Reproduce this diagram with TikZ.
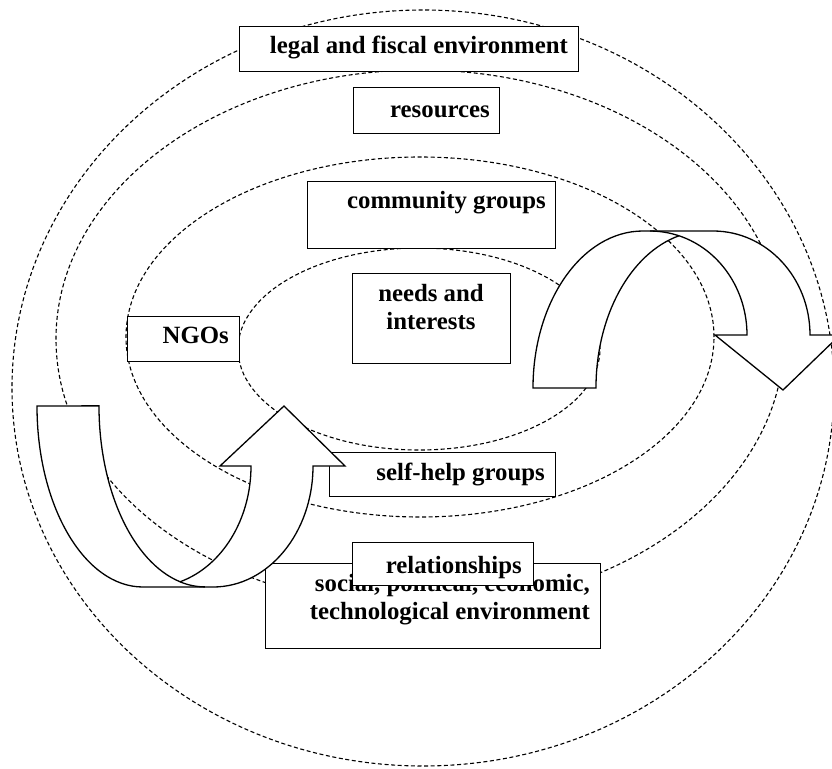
\documentclass[tikz,border=0pt]{standalone}
\usepackage{fontspec}
\setmainfont{Liberation Serif}
\begin{document}
\begin{tikzpicture}[x=1pt,y=1pt,
  ell/.style={draw=black,line width=1.1pt,dash pattern=on 4pt off 2.6pt},
  box/.style={draw=black,fill=white,line width=1.3pt,inner sep=0pt,anchor=north west},
  txt/.style={font=\fontsize{24.8}{27.5}\selectfont\bfseries,inner sep=0pt},
  arrowshape/.style={draw=black,fill=white,line width=1.3pt,line join=miter},
  seam/.style={draw=black,line width=1.3pt}]
\useasboundingbox (0,0) rectangle (832,-768);
% ellipses
\draw[ell] (423,-388) ellipse [x radius=411pt, y radius=378pt];
\draw[ell] (420,-339) ellipse [x radius=364pt, y radius=269pt];
\draw[ell] (420,-337) ellipse [x radius=294pt, y radius=180pt];
\draw[ell] (419,-349) ellipse [x radius=181pt, y radius=101pt];
% boxes
\node[box,minimum width=339pt,minimum height=45pt] (legal) at (239,-26) {};
\node[txt,anchor=base east] (legalT) at (568,-54) {legal and fiscal environment};
\node[box,minimum width=146pt,minimum height=46pt] (res) at (353,-87) {};
\node[txt,anchor=base east] (resT) at (490,-117) {resources};
\node[box,minimum width=248pt,minimum height=67pt] (comm) at (307,-181) {};
\node[txt,anchor=base east] (commT) at (546,-208) {community groups};
\node[box,minimum width=158pt,minimum height=90pt] (needs) at (352,-273) {};
\node[txt,align=center,anchor=base] (needsT) at (431,-329) {needs and\\interests};
\node[box,minimum width=112pt,minimum height=45pt] (ngo) at (127,-316) {};
\node[txt,anchor=base east] (ngoT) at (229,-343) {NGOs};
\node[box,minimum width=226pt,minimum height=44pt] (self) at (329,-452) {};
\node[txt,anchor=base east] (selfT) at (545,-480) {self-help groups};
\node[box,minimum width=335pt,minimum height=85pt] (soc) at (265,-563) {};
\node[txt,align=right,anchor=base east] (socT) at (590,-619) {social, political, economic,\\technological environment};
\node[box,minimum width=181pt,minimum height=43pt] (rel) at (352,-542) {};
\node[txt,anchor=base east] (relT) at (522,-573) {relationships};
% right curved arrow
\coordinate (rJ) at (679,-235.8);
\path[arrowshape] (533,-388) arc[start angle=180,end angle=90,x radius=110pt,y radius=157pt]
  -- (713,-231) arc[start angle=90,end angle=0,x radius=97pt,y radius=104pt]
  -- (840,-335) -- (783,-390) -- (715,-335) -- (747,-335)
  arc[start angle=0,end angle=72.6,x radius=97pt,y radius=104pt]
  arc[start angle=104.2,end angle=180,x radius=110pt,y radius=157pt] -- cycle;
\draw[seam] (rJ) arc[start angle=72.6,end angle=90,x radius=97pt,y radius=104pt];
% left curved arrow
\coordinate (lJ) at (180,-581.8);
\path[arrowshape] (37,-406) arc[start angle=180,end angle=270,x radius=106pt,y radius=181pt]
  -- (213,-587) arc[start angle=270,end angle=360,x radius=100pt,y radius=121pt]
  -- (345,-466) -- (284,-406) -- (220,-466) -- (251,-466)
  arc[start angle=0,end angle=-73.1,x radius=100pt,y radius=121pt]
  arc[start angle=256.4,end angle=180,x radius=106pt,y radius=181pt] -- cycle;
\draw[seam] (lJ) arc[start angle=256.4,end angle=270,x radius=106pt,y radius=181pt];
\end{tikzpicture}
\end{document}
